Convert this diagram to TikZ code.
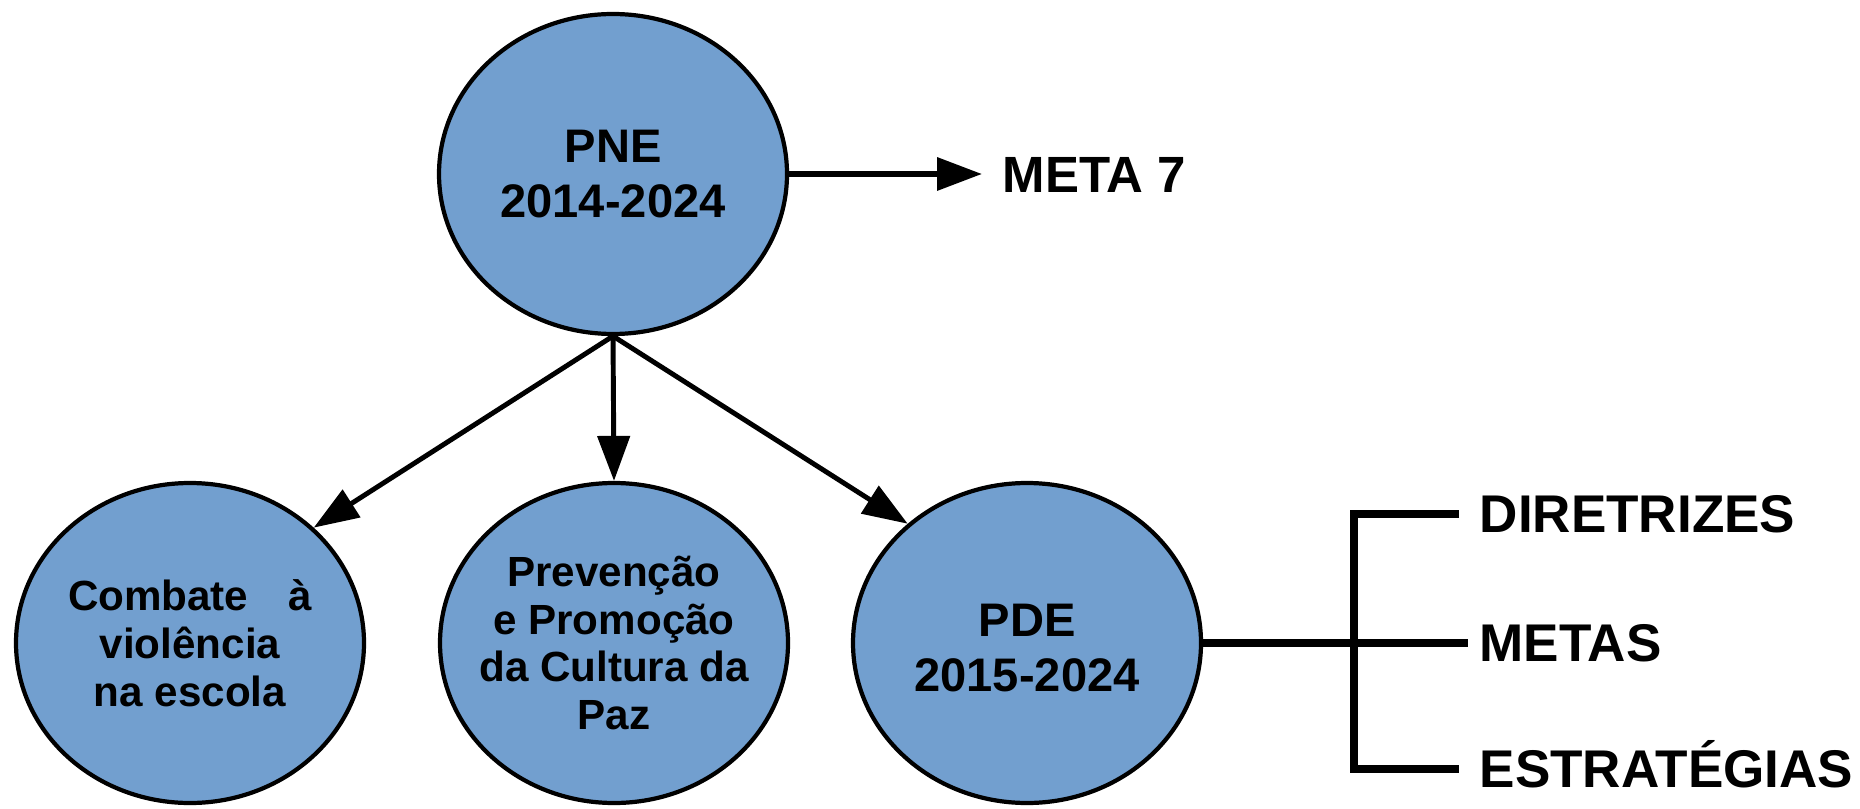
\documentclass[tikz,border=0pt]{standalone}
\usepackage{fontspec}
\setmainfont{Liberation Sans}
\usetikzlibrary{shapes.geometric,arrows.meta,positioning}
\definecolor{bubbleblue}{RGB}{114,159,207}

\begin{document}
\begin{tikzpicture}[
    bubble/.style={ellipse,draw,line width=1.2pt,fill=bubbleblue,minimum width=3.48cm,minimum height=3.2cm,inner sep=0pt},
    bigtxt/.style={align=center,font=\bfseries\fontsize{13.4}{15.6}\selectfont},
    smalltxt/.style={align=center,font=\bfseries\fontsize{12}{13.6}\selectfont},
    lbl/.style={anchor=west,font=\bfseries\fontsize{15.1}{17}\selectfont,inner xsep=0.2cm,inner ysep=0pt,text height=10.8pt,text depth=0pt},
    arr/.style={line width=1.4pt,-{Triangle[length=0.45cm,width=0.32cm]}},
    bar/.style={line width=2.1pt}]
  \useasboundingbox (0,0) rectangle (18.6,8.08);
  % the plans
  \node[bubble] (pne) at (6.13,6.34) {};
  \node[bigtxt] (pnetxt) at (pne) {PNE\\2014-2024};
  \node[bubble] (comb) at (1.90,1.65) {};
  \node[smalltxt] (combtxt) at (comb) {Combate\hspace{0.95em}à\\violência\\na escola};
  \node[bubble] (prev) at (6.14,1.65) {};
  \node[smalltxt] (prevtxt) at (prev) {Prevenção\\e Promoção\\da Cultura da\\Paz};
  \node[bubble] (pde) at (10.27,1.65) {};
  \node[bigtxt] (pdetxt) at ([yshift=-0.05cm]pde) {PDE\\2015-2024};
  \node[lbl,font=\bfseries\fontsize{14.5}{17}\selectfont,right=1.93cm of pne] (meta) {META 7};
  % arrows
  \draw[arr,line width=1.8pt] (pne) -- (meta);
  \draw[arr] (pne.south) -- (comb.43);
  \draw[arr] (pne.south) -- (prev.north);
  \draw[arr] (pne.south) -- (pde.135);
  % the fork
  \node[lbl] (dir) at (14.59,2.94) {DIRETRIZES};
  \node[lbl] (metas) at (14.59,1.65) {METAS};
  \node[lbl] (estr) at (14.59,0.39) {ESTRATÉGIAS};
  \coordinate (forktop) at (13.54,2.94);
  \coordinate (forkbot) at (13.54,0.39);
  \draw[bar] (dir.west) -- (forktop) -- (forkbot) -- (estr.west);
  \draw[bar,shorten >=-0.09cm] (pde.east) -- (metas.west);
\end{tikzpicture}
\end{document}
